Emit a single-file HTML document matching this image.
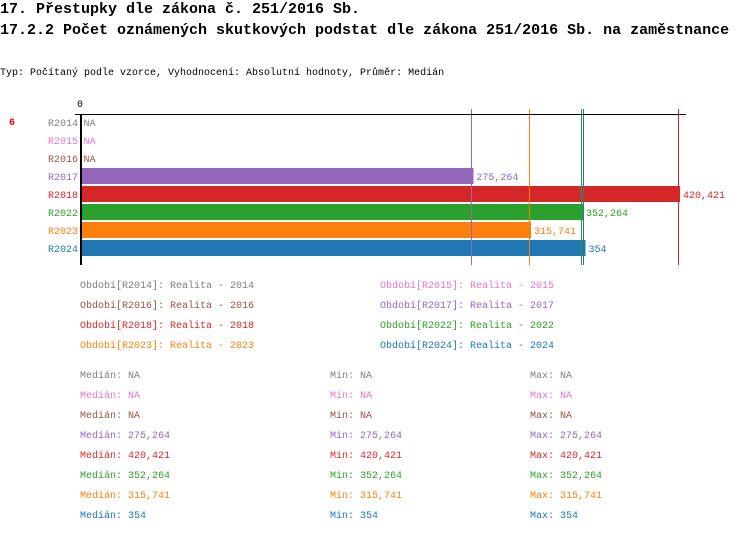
<!DOCTYPE html>
<html><head><meta charset="utf-8"><style>
body{margin:0;width:750px;height:534px;background:#fff;position:relative;overflow:hidden;font-family:"Liberation Mono",monospace;}
.t{position:absolute;white-space:pre;font-size:10px;line-height:12px;}
.h{position:absolute;white-space:pre;font-size:15px;font-weight:bold;line-height:16px;}
</style></head><body>
<div class="h" style="left:0;top:2px">17. Přestupky dle zákona č. 251/2016 Sb.</div>
<div class="h" style="left:0;top:23px">17.2.2 Počet oznámených skutkových podstat dle zákona 251/2016 Sb. na zaměstnance</div>
<div class="t" style="left:0;top:68px">Typ: Počítaný podle vzorce, Vyhodnocení: Absolutní hodnoty, Průměr: Medián</div>
<div class="t" style="left:9px;top:118px;color:#f00;font-weight:bold">6</div>
<svg id="chart" width="750" height="534" style="position:absolute;left:0;top:0" shape-rendering="crispEdges"></svg>
<div id="legend"></div>
<script>
const categories=["R2014","R2015","R2016","R2017","R2018","R2022","R2023","R2024"];
const values=[null,null,null,275.264,420.421,352.264,315.741,354];
const labels=["NA","NA","NA","275,264","420,421","352,264","315,741","354"];
const colors=["#7f7f7f","#e377c2","#8c564b","#9467bd","#d62728","#2ca02c","#ff7f0e","#1f77b4"];
const maxV=420.421;
const NS="http://www.w3.org/2000/svg";
const svg=document.getElementById('chart');
const x0=80.5, xw=598.5;
function xs(v){return x0+v/maxV*xw;}
function ys(i){return 114+18*i;}
function mk(tag,at){const e=document.createElementNS(NS,tag);for(const k in at)e.setAttribute(k,at[k]);svg.appendChild(e);return e;}
let z=mk('text',{x:80,y:107,'font-size':10,'font-family':'Liberation Mono, monospace','text-anchor':'middle'});z.textContent='0';


values.forEach((v,i)=>{
  const lb=mk('text',{x:78,y:ys(i)+12,'font-size':10,'font-family':'Liberation Mono, monospace','text-anchor':'end',fill:colors[i]});
  lb.textContent=categories[i];
  
  
  if(v!==null){
    const r=mk('rect',{x:x0,y:ys(i),width:xs(v)-x0+1,height:16,fill:colors[i]});
    
    
  }
  const vl=mk('text',{x:(v===null?x0+3:xs(v)+4),y:ys(i)+12,'font-size':10,'font-family':'Liberation Mono, monospace',fill:colors[i]});
  vl.textContent=labels[i];
  
  
});
values.forEach((v,i)=>{
  if(v===null)return;
  const xx=Math.round(xs(v))-1;
  const l=mk('rect',{x:xx,y:109,width:1,height:156,fill:colors[i]});
  
  
});
const ax=mk('rect',{x:75,y:114,width:611,height:1,fill:'#000'});


const ay=mk('rect',{x:80,y:114,width:2,height:151,fill:'#000'});


const yrs=["2014","2015","2016","2017","2018","2022","2023","2024"];
const lg=document.getElementById('legend');
function div(txt,l,t,c,name,inter){const d=document.createElement('div');d.className='t';d.style.left=l+'px';d.style.top=t+'px';d.style.color=c;d.textContent=txt;


lg.appendChild(d);}
categories.forEach((c,i)=>{
  div('Období['+c+']: Realita - '+yrs[i],i%2?380:80,281+20*Math.floor(i/2),colors[i],'legend-entry','true');
  const s=values[i]===null?'NA':labels[i];
  div('Medián: '+s,80,371+20*i,colors[i],'median-stat','false');
  div('Min: '+s,330,371+20*i,colors[i],'min-stat','false');
  div('Max: '+s,530,371+20*i,colors[i],'max-stat','false');
});
</script>
</body></html>
